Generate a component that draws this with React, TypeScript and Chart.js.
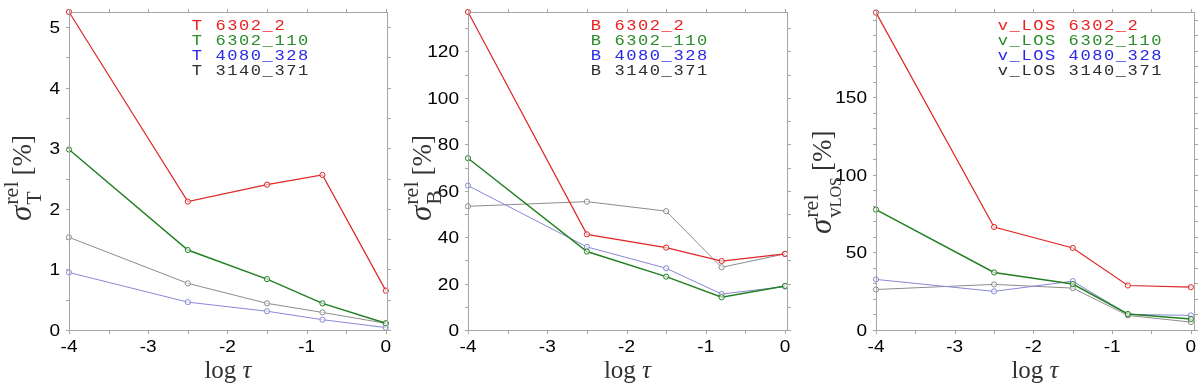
import React, { useEffect, useRef } from "react";
import { Chart, registerables } from "chart.js";

Chart.register(...registerables);

// ---------- data ----------
const logTau = [-4, -2.5, -1.5, -0.8, 0];
const lineNames = ["6302_2", "6302_110", "4080_328", "3140_371"];

const tempRed = [5.25, 2.12, 2.4, 2.56, 0.65];
const tempGreen = [2.98, 1.32, 0.84, 0.44, 0.11];
const tempBlue = [0.95, 0.46, 0.31, 0.17, 0.04];
const tempGray = [1.53, 0.77, 0.44, 0.29, 0.11];

const fieldRed = [137, 41.2, 35.5, 29.7, 32.8];
const fieldGreen = [74.0, 33.8, 23.0, 14.1, 19.0];
const fieldBlue = [62.2, 35.8, 26.6, 15.5, 18.7];
const fieldGray = [53.3, 55.3, 51.2, 27.0, 32.8];

const velRed = [204.6, 66.4, 52.9, 28.7, 27.6];
const velGreen = [77.6, 37.1, 29.6, 10.3, 7.1];
const velBlue = [32.6, 24.9, 31.5, 10.1, 9.4];
const velGray = [26.1, 29.4, 27.0, 9.4, 5.1];

const xTickLabels = [-4, -3, -2, -1, 0];
const xMinorTicks = [-4, -3.5, -3, -2.5, -2, -1.5, -1, -0.5, 0];
const tempTickLabels = [0, 1, 2, 3, 4, 5];
const tempMinorTicks = [0, 0.5, 1, 1.5, 2, 2.5, 3, 3.5, 4, 4.5, 5];
const fieldTickLabels = [0, 20, 40, 60, 80, 100, 120];
const fieldMinorTicks = [0, 10, 20, 30, 40, 50, 60, 70, 80, 90, 100, 110, 120, 130];
const velTickLabels = [0, 50, 100, 150];
const velMinorTicks = [0, 10, 20, 30, 40, 50, 60, 70, 80, 90, 100, 110, 120, 130, 140, 150, 160, 170, 180, 190, 200];

// ---------- styles ----------
const lineColors = ["rgb(222,38,38)", "rgb(34,128,34)", "rgb(135,135,215)", "rgb(140,140,140)"];
const lineWidths = [1.2, 1.5, 1, 1];
const textColors = ["rgb(235,32,32)", "rgb(40,140,40)", "rgb(40,40,232)", "rgb(45,45,45)"];
const AXIS = "rgb(165,165,165)";
const SERIF = '"Liberation Serif", "DejaVu Serif", serif';
const SANS = '"Liberation Sans", Arial, sans-serif';
const MONO = '"Liberation Mono", "DejaVu Sans Mono", monospace';

type SubPart = { text: string; size: number };
type PanelCfg = {
  plotLeft: number;
  plotRight: number;
  xMax: number;
  yMax: number;
  series: number[][];
  yLabels: number[];
  yMinor: number[];
  prefix: string;
  legendX: number;
  sub: SubPart[];
  titleStartY: number;
};

const panels: PanelCfg[] = [
  {
    plotLeft: 69, plotRight: 387, xMax: 0.015, yMax: 5.25,
    series: [tempRed, tempGreen, tempBlue, tempGray],
    yLabels: tempTickLabels, yMinor: tempMinorTicks,
    prefix: "T", legendX: 191,
    sub: [{ text: "T", size: 22 }], titleStartY: 221,
  },
  {
    plotLeft: 68, plotRight: 387, xMax: 0.025, yMax: 137,
    series: [fieldRed, fieldGreen, fieldBlue, fieldGray],
    yLabels: fieldTickLabels, yMinor: fieldMinorTicks,
    prefix: "B", legendX: 190,
    sub: [{ text: "B", size: 22 }], titleStartY: 221,
  },
  {
    plotLeft: 76, plotRight: 394, xMax: 0.04, yMax: 205,
    series: [velRed, velGreen, velBlue, velGray],
    yLabels: velTickLabels, yMinor: velMinorTicks,
    prefix: "v_LOS", legendX: 197,
    sub: [{ text: "v", size: 21 }, { text: "LOS", size: 16 }], titleStartY: 234,
  },
];

const W = 400;
const H = 387;
const PLOT_TOP = 12;
const PLOT_BOTTOM = 330;

function stretched(ctx: CanvasRenderingContext2D, text: string, x: number, y: number, align: string, sx: number) {
  const w = ctx.measureText(text).width * sx;
  const left = align === "center" ? x - w / 2 : align === "right" ? x - w : x;
  ctx.save();
  ctx.translate(left, y);
  ctx.scale(sx, 1);
  ctx.textAlign = "left";
  ctx.fillText(text, 0, 0);
  ctx.restore();
}

function makeDecor(cfg: PanelCfg) {
  return {
    id: "decor",
    afterDraw(chart: any) {
      const ctx: CanvasRenderingContext2D = chart.ctx;
      const a = chart.chartArea;
      const xs = chart.scales.x;
      const ys = chart.scales.y;
      ctx.save();
      // frame
      ctx.strokeStyle = AXIS;
      ctx.lineWidth = 1;
      const L = Math.round(a.left) + 0.5;
      const R = Math.round(a.right) + 0.5;
      const T = Math.round(a.top) + 0.5;
      const B = Math.round(a.bottom) + 0.5;
      ctx.strokeRect(L, T, R - L, B - T);
      // ticks (outward, all sides)
      const tl = 3.5;
      ctx.beginPath();
      for (const v of xMinorTicks) {
        const px = Math.round(xs.getPixelForValue(v)) + 0.5;
        ctx.moveTo(px, B); ctx.lineTo(px, B + tl);
        ctx.moveTo(px, T); ctx.lineTo(px, T - tl);
      }
      for (const v of cfg.yMinor) {
        const py = Math.round(ys.getPixelForValue(v)) + 0.5;
        ctx.moveTo(L, py); ctx.lineTo(L - tl, py);
        ctx.moveTo(R, py); ctx.lineTo(R + tl, py);
      }
      ctx.stroke();
      // tick labels
      ctx.fillStyle = "#000";
      ctx.font = `17px ${SANS}`;
      ctx.textBaseline = "alphabetic";
      for (const v of xTickLabels) {
        stretched(ctx, String(v), xs.getPixelForValue(v), 352, "center", 1.12);
      }
      for (const v of cfg.yLabels) {
        stretched(ctx, String(v), a.left - 9, ys.getPixelForValue(v) + 6, "right", 1.12);
      }
      // x title: log τ
      ctx.fillStyle = "#333";
      ctx.font = `25px ${SERIF}`;
      const logW = ctx.measureText("log ").width;
      ctx.font = `italic 25px ${SERIF}`;
      const tauW = ctx.measureText("τ").width;
      const cx = (a.left + a.right) / 2;
      const sx0 = cx - (logW + tauW) / 2;
      ctx.font = `25px ${SERIF}`;
      ctx.textAlign = "left";
      ctx.fillText("log ", sx0, 378);
      ctx.font = `italic 25px ${SERIF}`;
      ctx.fillText("τ", sx0 + logW, 378);
      // y title (rotated)
      ctx.save();
      ctx.translate(31, cfg.titleStartY);
      ctx.rotate(-Math.PI / 2);
      let x = 0;
      ctx.font = `italic 31px ${SERIF}`;
      ctx.fillText("σ", x, 0);
      x += ctx.measureText("σ").width + 1;
      ctx.font = `22px ${SERIF}`;
      ctx.fillText("rel", x, -13);
      const supEnd = x + ctx.measureText("rel").width;
      let sx = x;
      for (const p of cfg.sub) {
        ctx.font = `${p.size}px ${SERIF}`;
        ctx.fillText(p.text, sx, 10);
        sx += ctx.measureText(p.text).width;
      }
      x = Math.max(supEnd, sx) + 6;
      ctx.font = `27px ${SERIF}`;
      ctx.fillText("[%]", x, 0);
      ctx.restore();
      // legend
      ctx.font = `14px ${MONO}`;
      const adv = 11.8;
      lineNames.forEach((name, i) => {
        const label = cfg.prefix + " " + name;
        ctx.fillStyle = textColors[i];
        const by = 29.5 + i * 15.2;
        for (let k = 0; k < label.length; k++) {
          const ch = label[k];
          if (ch === " ") continue;
          const gw = ctx.measureText(ch).width * 1.22;
          ctx.save();
          ctx.translate(cfg.legendX + k * adv + (adv - gw) / 2, by);
          ctx.scale(1.22, 1);
          ctx.fillText(ch, 0, 0);
          ctx.restore();
        }
      });
      ctx.restore();
    },
  };
}

function Panel({ cfg }: { cfg: PanelCfg }) {
  const ref = useRef<HTMLCanvasElement | null>(null);
  useEffect(() => {
    const canvas = ref.current;
    if (!canvas) return;
    const datasets = cfg.series.map((vals, i) => ({
      label: lineNames[i],
      data: logTau.map((t, j) => ({ x: t, y: vals[j] })),
      borderColor: lineColors[i],
      borderWidth: lineWidths[i],
      pointRadius: 2.6,
      pointBorderWidth: 1,
      pointBorderColor: lineColors[i],
      pointBackgroundColor: "rgba(255,255,255,0.6)",
      tension: 0,
      fill: false,
      clip: false as any,
    }));
    const chart = new Chart(canvas, {
      type: "line",
      data: { datasets },
      options: {
        responsive: false,
        animation: false,
        devicePixelRatio: 1,
        layout: { padding: { left: 0, right: W - cfg.plotRight, top: PLOT_TOP, bottom: 0 } },
        plugins: { legend: { display: false }, tooltip: { enabled: false } },
        scales: {
          x: {
            type: "linear",
            min: -4,
            max: cfg.xMax,
            grid: { display: false },
            border: { display: false },
            ticks: { display: false },
            afterFit: (s: any) => { s.height = H - PLOT_BOTTOM; },
          },
          y: {
            type: "linear",
            min: 0,
            max: cfg.yMax,
            grid: { display: false },
            border: { display: false },
            ticks: { display: false },
            afterFit: (s: any) => { s.width = cfg.plotLeft; },
          },
        },
      },
      plugins: [makeDecor(cfg)],
    });
    return () => chart.destroy();
  }, [cfg]);
  return <canvas ref={ref} width={W} height={H} style={{ width: W, height: H, display: "block" }} />;
}

export default function App() {
  return (
    <div style={{ position: "absolute", left: 0, top: 0, width: 1200, height: 387, background: "#fff", display: "flex" }}>
      {panels.map((p, i) => (
        <Panel key={i} cfg={p} />
      ))}
    </div>
  );
}
